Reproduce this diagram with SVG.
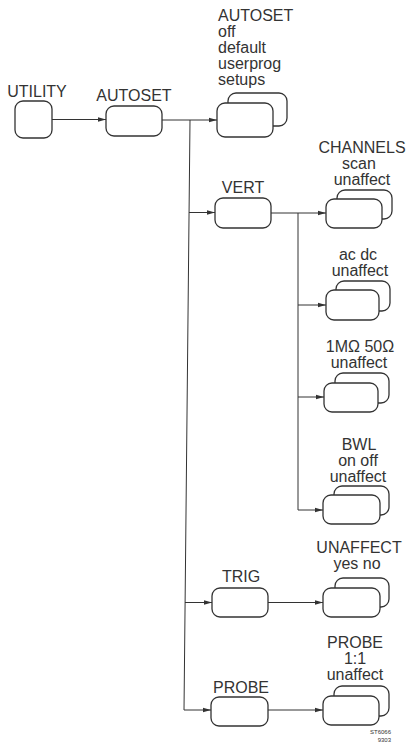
<svg xmlns="http://www.w3.org/2000/svg" width="407" height="744" viewBox="0 0 407 744">
<style>
text{font-family:"Liberation Sans",Arial,sans-serif;font-size:16px;fill:#333}
.m{text-anchor:middle}
.box{fill:#fff;stroke:#333;stroke-width:1.3}
.ln{fill:none;stroke:#333;stroke-width:1}
.cap{font-size:6px;text-anchor:end}
</style>
<defs>
<marker id="ar" viewBox="0 0 8 6" refX="8" refY="3" markerWidth="8" markerHeight="6" markerUnits="userSpaceOnUse" orient="auto">
<path d="M0,0.8 L8,3 L0,5.2 Z" fill="#333"/>
</marker>
</defs>
<rect width="407" height="744" fill="#fff"/>
<g id="connectors">
<path class="ln" d="M52,119.5 H106" marker-end="url(#ar)"/>
<path class="ln" d="M162,120 H217" marker-end="url(#ar)"/>
<path class="ln" d="M190,120 L184,710 H211" marker-end="url(#ar)"/>
<path class="ln" d="M189,212.5 H215" marker-end="url(#ar)"/>
<path class="ln" d="M185,602.5 H212" marker-end="url(#ar)"/>
<path class="ln" d="M271,213 H326" marker-end="url(#ar)"/>
<path class="ln" d="M298,213 V510 H323" marker-end="url(#ar)"/>
<path class="ln" d="M298,305 H326" marker-end="url(#ar)"/>
<path class="ln" d="M298,397 H324" marker-end="url(#ar)"/>
<path class="ln" d="M268,602.5 H323" marker-end="url(#ar)"/>
<path class="ln" d="M268,710 H323" marker-end="url(#ar)"/>
</g>
<g id="utility">
<text class="m" x="37" y="97">UTILITY</text>
<rect class="box" x="15" y="101" width="37" height="37" rx="8"/>
</g>
<g id="autoset">
<text class="m" x="134" y="101">AUTOSET</text>
<rect class="box" x="106" y="106" width="56" height="30" rx="8"/>
</g>
<g id="autoset-options">
<text x="218" y="21">AUTOSET</text>
<text x="218" y="37">off</text>
<text x="218" y="53">default</text>
<text x="218" y="69">userprog</text>
<text x="218" y="85">setups</text>
<rect class="box" x="228" y="93" width="59" height="33" rx="8"/>
<rect class="box" x="217" y="103" width="56" height="34" rx="8"/>
</g>
<g id="vert">
<text class="m" x="243" y="193">VERT</text>
<rect class="box" x="215" y="198" width="56" height="30" rx="8"/>
</g>
<g id="channels">
<text class="m" x="362" y="153">CHANNELS</text>
<text class="m" x="359" y="169">scan</text>
<text class="m" x="362" y="185">unaffect</text>
<rect class="box" x="337" y="190" width="55" height="29" rx="8"/>
<rect class="box" x="326" y="199" width="56" height="29" rx="8"/>
</g>
<g id="acdc">
<text class="m" x="358" y="260">ac dc</text>
<text class="m" x="360" y="276">unaffect</text>
<rect class="box" x="336" y="281" width="54" height="30" rx="8"/>
<rect class="box" x="326" y="290" width="53" height="30" rx="8"/>
</g>
<g id="impedance">
<text class="m" x="360" y="352">1MΩ 50Ω</text>
<text class="m" x="359" y="368">unaffect</text>
<rect class="box" x="335" y="373" width="54" height="30" rx="8"/>
<rect class="box" x="324" y="383" width="54" height="29" rx="8"/>
</g>
<g id="bwl">
<text class="m" x="359" y="450">BWL</text>
<text class="m" x="358" y="466">on off</text>
<text class="m" x="358" y="482">unaffect</text>
<rect class="box" x="334" y="486" width="55" height="29" rx="8"/>
<rect class="box" x="323" y="495" width="57" height="29" rx="8"/>
</g>
<g id="trig">
<text class="m" x="241" y="582">TRIG</text>
<rect class="box" x="212" y="588" width="56" height="29" rx="8"/>
</g>
<g id="unaffect">
<text class="m" x="359" y="553">UNAFFECT</text>
<text class="m" x="357" y="569">yes no</text>
<rect class="box" x="335" y="578" width="54" height="29" rx="8"/>
<rect class="box" x="323" y="588" width="57" height="29" rx="8"/>
</g>
<g id="probe">
<text class="m" x="241" y="693">PROBE</text>
<rect class="box" x="211" y="697" width="57" height="29" rx="8"/>
</g>
<g id="probe-options">
<text class="m" x="355" y="648">PROBE</text>
<text class="m" x="355" y="664">1:1</text>
<text class="m" x="355" y="680">unaffect</text>
<rect class="box" x="334" y="686" width="55" height="30" rx="8"/>
<rect class="box" x="323" y="696" width="56" height="29" rx="8"/>
</g>
<g id="caption">
<text class="cap" x="391" y="734">ST6066</text>
<text class="cap" x="391" y="742">9303</text>
</g>
</svg>
